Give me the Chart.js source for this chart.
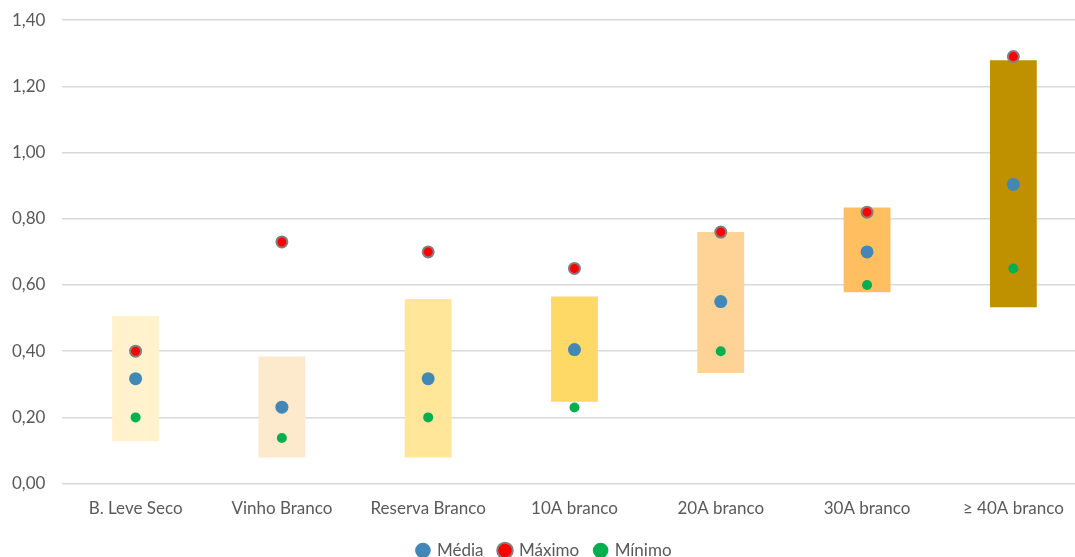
<!DOCTYPE html>
<html>
<head>
<meta charset="utf-8">
<script src="https://cdn.jsdelivr.net/npm/chart.js@4"></script>
<style>
    html, body { margin: 0; padding: 0; background: #fff; overflow: hidden; }
    .chart-container { position: relative; width: 1099px; height: 576px; margin-left: -5px; margin-top: -7px; }
</style>
</head>
<body>
<div class="chart-container">
    <canvas id="rangeChart"></canvas>
</div>
<script>
const categories = ['B. Leve Seco', 'Vinho Branco', 'Reserva Branco', '10A branco', '20A branco', '30A branco', '\u2265 40A branco'];
const rangeLow = [0.128, 0.079, 0.079, 0.247, 0.334, 0.578, 0.533];
const rangeHigh = [0.506, 0.384, 0.558, 0.565, 0.760, 0.834, 1.279];
const media = [0.317, 0.231, 0.317, 0.405, 0.550, 0.700, 0.904];
const maximo = [0.40, 0.73, 0.70, 0.65, 0.76, 0.82, 1.29];
const minimo = [0.20, 0.138, 0.20, 0.23, 0.40, 0.60, 0.65];
const barColors = ['#FFF2CC', '#FDE9CB', '#FFE699', '#FFD966', '#FFD395', '#FFBF60', '#BF9000'];

Chart.defaults.font.family = 'Lato, "Open Sans", sans-serif';
Chart.defaults.font.size = 17;
Chart.defaults.color = '#595959';

function createRangeChart(ctx) {
    return new Chart(ctx, {
        type: 'bar',
        data: {
            labels: categories,
            datasets: [
                {
                    type: 'line',
                    label: 'Média',
                    data: media,
                    showLine: false,
                    pointRadius: 6.5,
                    pointBackgroundColor: '#4387B6',
                    pointBorderWidth: 0,
                    borderColor: '#4387B6',
                    backgroundColor: '#4387B6',
                    order: 1
                },
                {
                    type: 'line',
                    label: 'Máximo',
                    data: maximo,
                    showLine: false,
                    pointRadius: 5.5,
                    pointBackgroundColor: '#FF0000',
                    pointBorderColor: '#808080',
                    pointBorderWidth: 2,
                    borderColor: '#808080',
                    backgroundColor: '#FF0000',
                    order: 1
                },
                {
                    type: 'line',
                    label: 'Mínimo',
                    data: minimo,
                    showLine: false,
                    pointRadius: 5,
                    pointBackgroundColor: '#00B050',
                    pointBorderWidth: 0,
                    borderColor: '#00B050',
                    backgroundColor: '#00B050',
                    order: 1
                },
                {
                    label: 'range',
                    data: rangeLow.map((lo, i) => [lo, rangeHigh[i]]),
                    backgroundColor: barColors,
                    borderWidth: 0,
                    categoryPercentage: 1,
                    barPercentage: 0.32,
                    order: 5
                }
            ]
        },
        options: {
            responsive: true,
            maintainAspectRatio: false,
            animation: false,
            layout: { padding: { top: 5, right: 0, left: 0, bottom: 0 } },
            scales: {
                x: {
                    grid: { display: false },
                    border: { display: false },
                    ticks: { padding: 7 }
                },
                y: {
                    min: 0,
                    max: 1.4,
                    ticks: {
                        stepSize: 0.2,
                        padding: 17,
                        callback: v => v.toFixed(2).replace('.', ',')
                    },
                    grid: { color: '#D9D9D9', lineWidth: 1.5, drawTicks: false },
                    border: { display: false }
                }
            },
            plugins: {
                legend: {
                    position: 'bottom',
                    labels: {
                        usePointStyle: true,
                        pointStyle: 'circle',
                        boxWidth: 11,
                        boxHeight: 11,
                        padding: 16,
                        filter: item => item.text !== 'range'
                    }
                },
                tooltip: { enabled: false }
            }
        }
    });
}

createRangeChart(document.getElementById('rangeChart').getContext('2d'));
</script>
</body>
</html>
